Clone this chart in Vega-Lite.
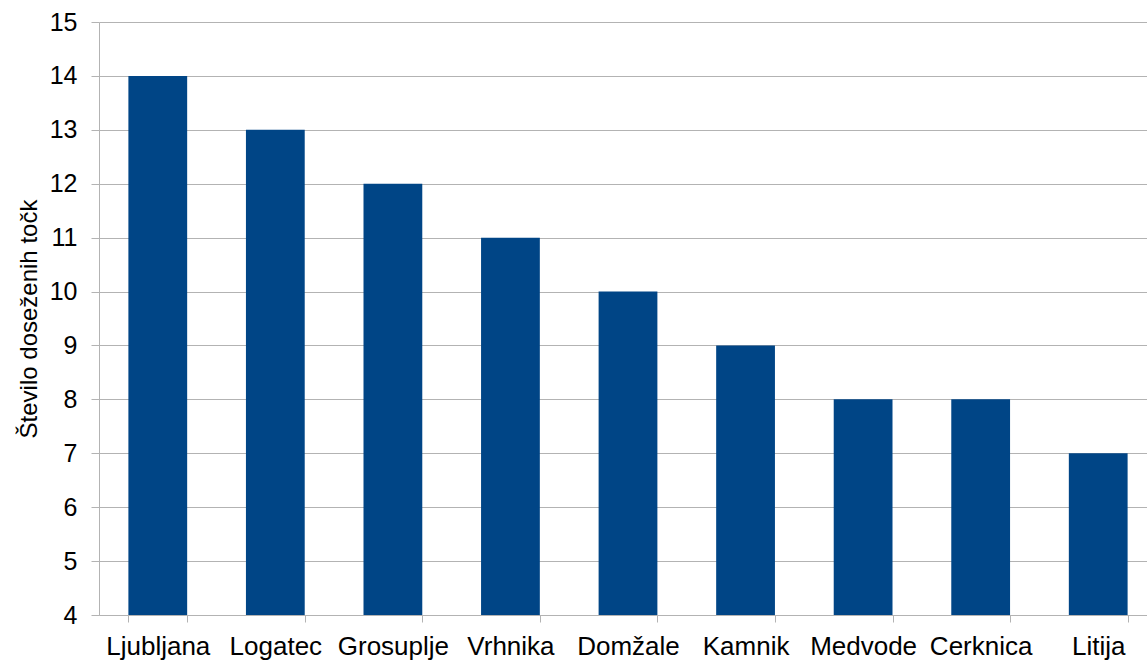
{
  "$schema": "https://vega.github.io/schema/vega-lite/v6.json",
  "width": 1058,
  "height": 593,
  "autosize": {"type": "none"},
  "padding": {"left": 99, "top": 22, "right": -10, "bottom": 46},
  "background": "white",
  "config": {
    "view": {"stroke": null},
    "font": "Liberation Sans",
    "axis": {
      "labelFont": "Liberation Sans",
      "titleFont": "Liberation Sans",
      "labelColor": "black",
      "titleColor": "black",
      "domainColor": "#b3b3b3",
      "tickColor": "#b3b3b3",
      "gridColor": "#b3b3b3",
      "domainWidth": 1,
      "tickWidth": 1,
      "gridWidth": 1
    }
  },
  "data": {
    "values": [
      {"kraj": "Ljubljana", "tocke": 14},
      {"kraj": "Logatec", "tocke": 13},
      {"kraj": "Grosuplje", "tocke": 12},
      {"kraj": "Vrhnika", "tocke": 11},
      {"kraj": "Domžale", "tocke": 10},
      {"kraj": "Kamnik", "tocke": 9},
      {"kraj": "Medvode", "tocke": 8},
      {"kraj": "Cerknica", "tocke": 8},
      {"kraj": "Litija", "tocke": 7}
    ]
  },
  "mark": {"type": "bar", "color": "#004586"},
  "encoding": {
    "x": {
      "field": "kraj",
      "type": "nominal",
      "sort": null,
      "scale": {"paddingInner": 0.5, "paddingOuter": 0.25},
      "axis": {
        "title": null,
        "labelAngle": 0,
        "labelFontSize": 26,
        "labelPadding": 11,
        "tickSize": 7,
        "tickBand": "extent",
        "grid": false,
        "labelOverlap": false
      }
    },
    "y": {
      "field": "tocke",
      "type": "quantitative",
      "scale": {"domain": [4, 15], "nice": false, "zero": false},
      "axis": {
        "title": "Število doseženih točk",
        "titleFontSize": 24,
        "titleFontWeight": "normal",
        "titlePadding": 8,
        "values": [4, 5, 6, 7, 8, 9, 10, 11, 12, 13, 14, 15],
        "labelFontSize": 25,
        "labelPadding": 14,
        "tickSize": 8,
        "grid": true
      }
    },
    "y2": {"datum": 4}
  }
}
